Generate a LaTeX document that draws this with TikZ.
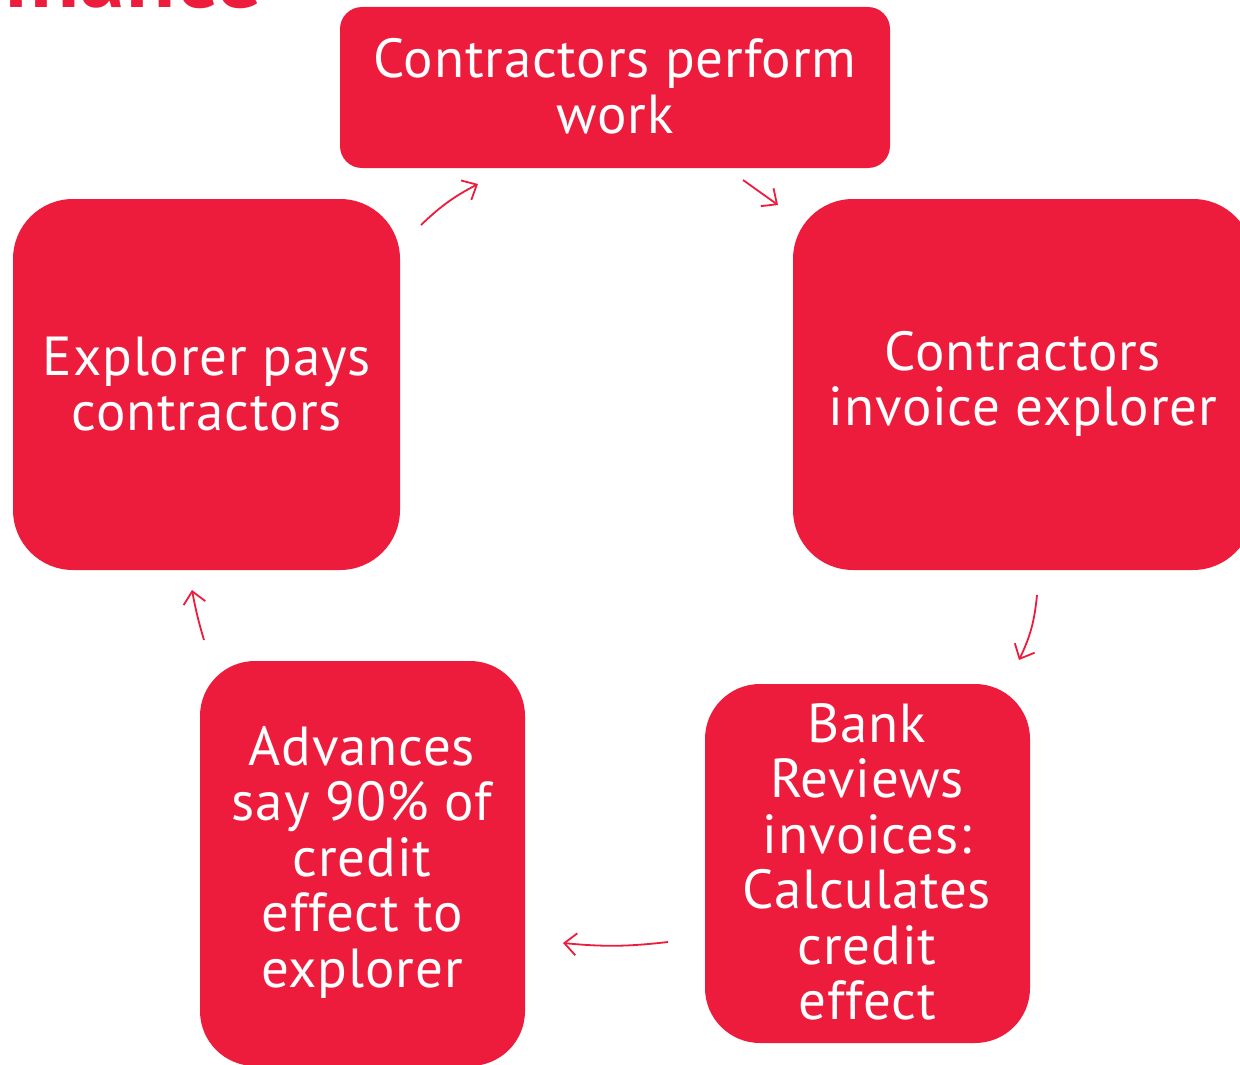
\documentclass[tikz,border=0pt]{standalone}
\usepackage{fontspec}
\setmainfont{PT Sans}[LetterSpace=1.5]
\usetikzlibrary{arrows.meta}
\definecolor{brandred}{HTML}{ED1C3C}
\tikzset{
  stepbox/.style={fill=brandred, draw=none, text=white, align=center,
    font=\fontsize{55}{55.5}\selectfont},
  flow/.style={draw=brandred, line width=1.8pt,
    -{Straight Barb[length=12pt, width=22pt, line width=1.8pt]}},
}
\begin{document}
\begin{tikzpicture}[x=1pt, y=-1pt]
\useasboundingbox (0,0) rectangle (1240,1065);
% title, mostly above the page
\node[anchor=base east, text=brandred, font=\fontsize{90}{90}\selectfont\bfseries, inner sep=0pt]
  (title) at (262,8) {Finance};
% boxes
\path[stepbox, rounded corners=22pt] (340,7) rectangle (890,168);
\node[stepbox] (work) at (615,86) {Contractors perform\\work};
\path[stepbox, rounded corners=60pt] (13,199) rectangle (400,570);
\node[stepbox] (pays) at (207,384) {Explorer pays\\contractors};
\path[stepbox, rounded corners=60pt] (793,199) rectangle (1253,570);
\node[stepbox] (invoice) at (1023,384) {Contractors\\invoice explorer};
\path[stepbox, rounded corners=55pt] (705,684) rectangle (1030,1043);
\node[stepbox] (bank) at (867,862) {Bank\\Reviews\\invoices:\\Calculates\\credit\\effect};
\path[stepbox, rounded corners=55pt] (200,661) rectangle (525,1066);
\node[stepbox] (advance) at (362,862) {Advances\\say 90\% of\\credit\\effect to\\explorer};
% connector ends
\coordinate (a1s) at (421,225); \coordinate (a1e) at (478,184);
\coordinate (a2s) at (743,180); \coordinate (a2e) at (778,205);
\coordinate (a3s) at (1037,595); \coordinate (a3e) at (1019,660);
\coordinate (a4s) at (668,942); \coordinate (a4e) at (563,943);
\coordinate (a5s) at (204,640); \coordinate (a5e) at (192,590);
\draw[flow] (a1s) to[bend left=8] (a1e);
\draw[flow] (a2s) -- (a2e);
\draw[flow] (a3s) to[bend left=10] (a3e);
\draw[flow] (a4s) to[bend left=6] (a4e);
\draw[flow] (a5s) to[bend left=3] (a5e);
\end{tikzpicture}
\end{document}
